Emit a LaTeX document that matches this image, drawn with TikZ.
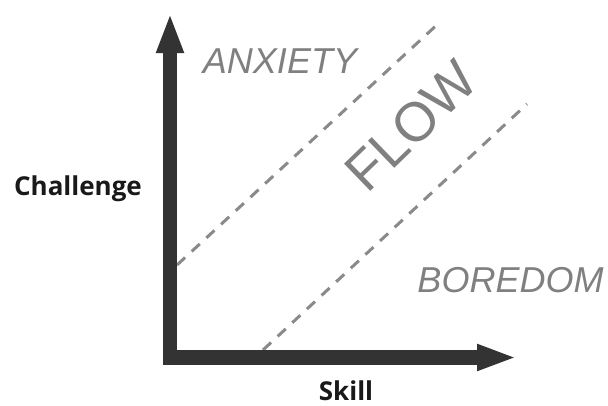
\documentclass[tikz,border=0pt]{standalone}
\usepackage{fontspec}
\setmainfont{Liberation Sans}
\newfontfamily\labelfont{Open Sans}
\usetikzlibrary{arrows.meta}
\definecolor{axiscol}{HTML}{333333}
\definecolor{zonecol}{HTML}{808080}
\definecolor{dashcol}{HTML}{8A8A8A}
\tikzset{
  axisline/.style={draw=axiscol, line width=14.5pt, line join=miter,
    arrows={Triangle[length=40pt,width=25pt]-Triangle[length=40pt,width=24pt]}},
  bound/.style={draw=dashcol, line width=3pt, dash pattern=on 11pt off 9pt},
  zone/.style={text=zonecol, inner sep=0pt, font=\fontsize{36}{40}\selectfont\itshape},
  flowtext/.style={text=zonecol, inner sep=0pt, font=\fontsize{55}{60}\selectfont},
  axislabel/.style={text=black!90, inner sep=0pt, font=\labelfont\bfseries\fontsize{26}{30}\selectfont}
}
\begin{document}
\begin{tikzpicture}[x=1pt,y=-1pt]
\useasboundingbox[fill=white] (0,0) rectangle (608,405);
% axes
\coordinate (ytip) at (170,13);
\coordinate (origin) at (170,357.5);
\coordinate (xtip) at (517,357.5);
% boundaries
\coordinate (ua) at (177,265);
\coordinate (ub) at (440,22);
\coordinate (la) at (263,350);
\coordinate (lb) at (527,104);
\draw[bound] (ua) -- (ub);
\draw[bound] (la) -- (lb);
\draw[axisline] (ytip) -- (origin) -- (xtip);
% labels
\node[axislabel] (challenge) at (78,189) {Challenge};
\node[axislabel] (skill) at (346,391) {Skill};
\node[zone] (anxiety) at (280,61) {ANXIETY};
\node[zone] (boredom) at (510.5,280.5) {BOREDOM};
\node[flowtext, rotate=44] (flow) at (411,126) {FLOW};
\end{tikzpicture}
\end{document}
